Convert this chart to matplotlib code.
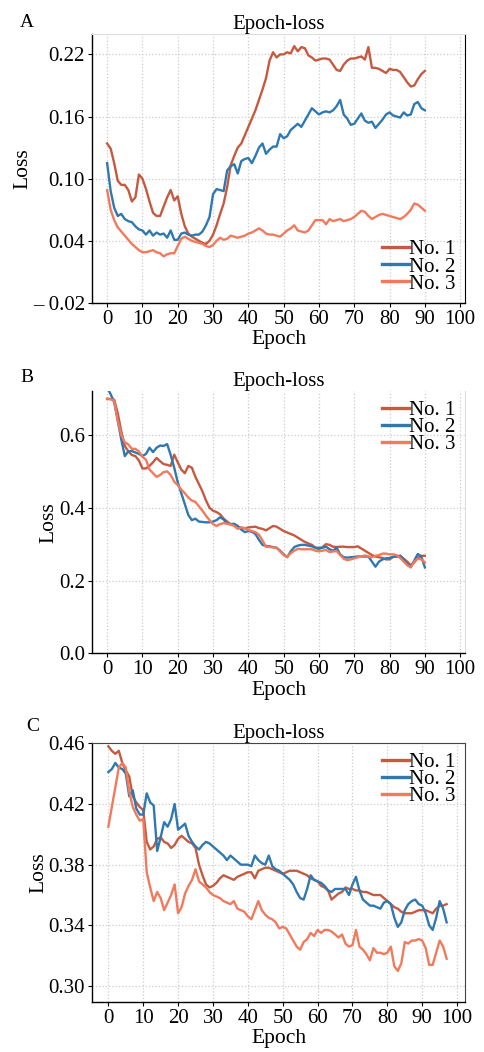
import numpy as np
import matplotlib
matplotlib.use("Agg")
import matplotlib.pyplot as plt

plt.rcParams['font.family'] = ['Liberation Serif', 'DejaVu Serif']
plt.rcParams['font.size'] = 14

labels = ["No. 1", "No. 2", "No. 3"]
colors = ["#c55a40", "#2f78b0", "#f27a5c"]

# panel A
a_no1 = [0.134, 0.129, 0.115, 0.098, 0.094, 0.094, 0.089, 0.078, 0.082, 0.104,
         0.100, 0.090, 0.078, 0.067, 0.064, 0.064, 0.073, 0.082, 0.089, 0.079,
         0.083, 0.066, 0.054, 0.047, 0.044, 0.042, 0.040, 0.038, 0.037, 0.040,
         0.046, 0.055, 0.066, 0.076, 0.092, 0.113, 0.122, 0.130, 0.134, 0.142,
         0.150, 0.158, 0.166, 0.176, 0.186, 0.197, 0.214, 0.222, 0.217, 0.220,
         0.220, 0.222, 0.221, 0.228, 0.223, 0.227, 0.226, 0.219, 0.217, 0.214,
         0.215, 0.216, 0.216, 0.215, 0.210, 0.205, 0.204, 0.210, 0.214, 0.216,
         0.216, 0.217, 0.218, 0.215, 0.227, 0.207, 0.207, 0.206, 0.204, 0.202,
         0.206, 0.205, 0.205, 0.203, 0.198, 0.193, 0.189, 0.190, 0.196, 0.201,
         0.204]
a_no2 = [0.115, 0.088, 0.072, 0.064, 0.066, 0.061, 0.059, 0.058, 0.054, 0.051,
         0.050, 0.046, 0.050, 0.045, 0.048, 0.046, 0.047, 0.043, 0.050, 0.041,
         0.041, 0.047, 0.048, 0.046, 0.045, 0.046, 0.046, 0.049, 0.055, 0.063,
         0.085, 0.090, 0.089, 0.088, 0.108, 0.112, 0.114, 0.105, 0.117, 0.119,
         0.120, 0.115, 0.122, 0.130, 0.134, 0.124, 0.128, 0.131, 0.131, 0.143,
         0.139, 0.141, 0.147, 0.150, 0.153, 0.150, 0.156, 0.162, 0.168, 0.165,
         0.162, 0.164, 0.165, 0.164, 0.166, 0.170, 0.176, 0.162, 0.158, 0.152,
         0.153, 0.158, 0.163, 0.156, 0.154, 0.155, 0.149, 0.153, 0.157, 0.162,
         0.164, 0.161, 0.160, 0.159, 0.164, 0.161, 0.162, 0.172, 0.174, 0.168,
         0.166]
a_no3 = [0.089, 0.070, 0.060, 0.053, 0.049, 0.045, 0.041, 0.037, 0.034, 0.031,
         0.029, 0.029, 0.030, 0.031, 0.029, 0.028, 0.025, 0.027, 0.028, 0.028,
         0.035, 0.042, 0.044, 0.042, 0.040, 0.039, 0.038, 0.037, 0.035, 0.034,
         0.036, 0.040, 0.043, 0.041, 0.042, 0.045, 0.044, 0.043, 0.044, 0.045,
         0.047, 0.048, 0.050, 0.052, 0.050, 0.047, 0.046, 0.046, 0.045, 0.044,
         0.047, 0.050, 0.052, 0.055, 0.050, 0.049, 0.048, 0.050, 0.055, 0.060,
         0.060, 0.060, 0.056, 0.061, 0.059, 0.060, 0.061, 0.059, 0.060, 0.061,
         0.063, 0.066, 0.069, 0.068, 0.064, 0.061, 0.063, 0.065, 0.066, 0.065,
         0.064, 0.063, 0.062, 0.061, 0.063, 0.066, 0.070, 0.076, 0.075, 0.072,
         0.069]

# panel B
b_no1 = [0.699, 0.699, 0.697, 0.660, 0.610, 0.570, 0.555, 0.545, 0.542, 0.530,
         0.508, 0.508, 0.515, 0.525, 0.537, 0.528, 0.520, 0.518, 0.515, 0.546,
         0.525, 0.505, 0.495, 0.515, 0.510, 0.485, 0.465, 0.445, 0.420, 0.400,
         0.392, 0.388, 0.382, 0.370, 0.362, 0.355, 0.352, 0.348, 0.345, 0.343,
         0.346, 0.347, 0.348, 0.344, 0.342, 0.338, 0.344, 0.350, 0.348, 0.342,
         0.336, 0.332, 0.328, 0.324, 0.318, 0.312, 0.306, 0.302, 0.298, 0.290,
         0.286, 0.292, 0.300, 0.298, 0.293, 0.292, 0.293, 0.293, 0.292, 0.292,
         0.292, 0.294, 0.288, 0.282, 0.276, 0.270, 0.266, 0.264, 0.262, 0.258,
         0.258, 0.265, 0.266, 0.268, 0.260, 0.252, 0.242, 0.250, 0.262, 0.268,
         0.268]
b_no2 = [0.730, 0.712, 0.690, 0.640, 0.588, 0.542, 0.555, 0.556, 0.552, 0.548,
         0.542, 0.548, 0.565, 0.553, 0.565, 0.571, 0.570, 0.575, 0.545, 0.510,
         0.470, 0.440, 0.410, 0.380, 0.366, 0.370, 0.362, 0.361, 0.360, 0.360,
         0.362, 0.366, 0.374, 0.368, 0.356, 0.355, 0.356, 0.350, 0.340, 0.333,
         0.336, 0.334, 0.328, 0.312, 0.298, 0.295, 0.294, 0.292, 0.290, 0.282,
         0.272, 0.264, 0.280, 0.292, 0.296, 0.298, 0.298, 0.296, 0.294, 0.290,
         0.290, 0.290, 0.293, 0.286, 0.282, 0.290, 0.272, 0.264, 0.263, 0.264,
         0.265, 0.266, 0.266, 0.266, 0.266, 0.252, 0.238, 0.252, 0.258, 0.261,
         0.262, 0.265, 0.266, 0.268, 0.258, 0.245, 0.237, 0.255, 0.273, 0.266,
         0.236]
b_no3 = [0.700, 0.698, 0.695, 0.640, 0.600, 0.580, 0.574, 0.562, 0.562, 0.555,
         0.540, 0.532, 0.505, 0.495, 0.485, 0.490, 0.498, 0.500, 0.490, 0.472,
         0.462, 0.450, 0.440, 0.428, 0.420, 0.416, 0.404, 0.392, 0.378, 0.366,
         0.355, 0.350, 0.355, 0.358, 0.356, 0.354, 0.350, 0.342, 0.346, 0.344,
         0.339, 0.336, 0.333, 0.326, 0.310, 0.293, 0.292, 0.291, 0.290, 0.280,
         0.270, 0.265, 0.275, 0.282, 0.287, 0.286, 0.286, 0.286, 0.286, 0.282,
         0.280, 0.282, 0.284, 0.278, 0.280, 0.281, 0.270, 0.260, 0.256, 0.258,
         0.261, 0.264, 0.266, 0.269, 0.266, 0.264, 0.268, 0.270, 0.274, 0.274,
         0.272, 0.272, 0.270, 0.262, 0.252, 0.242, 0.236, 0.252, 0.260, 0.258,
         0.250]

# panel C
c_no1 = [0.458, 0.455, 0.453, 0.455, 0.447, 0.442, 0.438, 0.425, 0.421, 0.418,
         0.416, 0.395, 0.390, 0.392, 0.397, 0.398, 0.395, 0.394, 0.391, 0.393,
         0.397, 0.399, 0.397, 0.395, 0.394, 0.391, 0.380, 0.373, 0.367, 0.365,
         0.366, 0.368, 0.371, 0.373, 0.372, 0.371, 0.370, 0.372, 0.373, 0.374,
         0.375, 0.375, 0.371, 0.376, 0.377, 0.378, 0.378, 0.377, 0.376, 0.375,
         0.374, 0.375, 0.376, 0.376, 0.376, 0.375, 0.374, 0.373, 0.371, 0.370,
         0.369, 0.366, 0.365, 0.363, 0.357, 0.359, 0.361, 0.362, 0.365, 0.364,
         0.364, 0.363, 0.363, 0.362, 0.362, 0.361, 0.360, 0.360, 0.360, 0.358,
         0.356, 0.354, 0.352, 0.351, 0.349, 0.348, 0.348, 0.348, 0.349, 0.350,
         0.350, 0.350, 0.349, 0.348, 0.351, 0.353, 0.353, 0.354]
c_no2 = [0.441, 0.443, 0.447, 0.444, 0.443, 0.440, 0.425, 0.429, 0.417, 0.413,
         0.413, 0.427, 0.421, 0.419, 0.389, 0.398, 0.408, 0.405, 0.410, 0.420,
         0.403, 0.405, 0.407, 0.399, 0.395, 0.392, 0.390, 0.393, 0.395, 0.394,
         0.392, 0.390, 0.388, 0.386, 0.383, 0.386, 0.384, 0.382, 0.380, 0.380,
         0.380, 0.379, 0.386, 0.383, 0.381, 0.380, 0.386, 0.379, 0.377, 0.376,
         0.374, 0.372, 0.370, 0.367, 0.362, 0.358, 0.357, 0.364, 0.373, 0.370,
         0.369, 0.368, 0.366, 0.363, 0.362, 0.364, 0.364, 0.364, 0.364, 0.360,
         0.367, 0.372, 0.363, 0.357, 0.355, 0.353, 0.353, 0.352, 0.351, 0.355,
         0.356, 0.354, 0.345, 0.339, 0.342, 0.350, 0.354, 0.356, 0.357, 0.354,
         0.353, 0.348, 0.340, 0.337, 0.345, 0.356, 0.351, 0.342]
c_no3 = [0.405, 0.418, 0.431, 0.444, 0.447, 0.444, 0.428, 0.418, 0.413, 0.409,
         0.410, 0.375, 0.365, 0.356, 0.362, 0.358, 0.350, 0.355, 0.360, 0.367,
         0.348, 0.352, 0.361, 0.366, 0.370, 0.377, 0.369, 0.367, 0.365, 0.362,
         0.360, 0.359, 0.358, 0.356, 0.355, 0.354, 0.356, 0.351, 0.350, 0.349,
         0.346, 0.344, 0.350, 0.356, 0.350, 0.347, 0.345, 0.344, 0.342, 0.338,
         0.339, 0.338, 0.334, 0.330, 0.326, 0.324, 0.329, 0.331, 0.335, 0.333,
         0.337, 0.335, 0.337, 0.337, 0.336, 0.334, 0.332, 0.334, 0.328, 0.326,
         0.327, 0.337, 0.326, 0.324, 0.321, 0.317, 0.325, 0.322, 0.322, 0.321,
         0.322, 0.326, 0.313, 0.310, 0.315, 0.329, 0.328, 0.330, 0.330, 0.331,
         0.330, 0.325, 0.314, 0.314, 0.322, 0.330, 0.326, 0.318]

xticks = [0, 10, 20, 30, 40, 50, 60, 70, 80, 90, 100]
a_yticks = [-0.02, 0.04, 0.10, 0.16, 0.22]
a_ylabels = ["\u2013 0.02", "0.04", "0.10", "0.16", "0.22"]
b_yticks = [0.0, 0.2, 0.4, 0.6]
c_yticks = [0.30, 0.34, 0.38, 0.42, 0.46]

fig = plt.figure(figsize=(4.84, 10.52), dpi=100)
ax_a = fig.add_axes([0.190, 0.712, 0.771, 0.256])
ax_b = fig.add_axes([0.190, 0.379, 0.771, 0.249])
ax_c = fig.add_axes([0.190, 0.0475, 0.771, 0.246])


def draw(ax, series, xlim, ylim, legend_loc):
    for s, lab, col in zip(series, labels, colors):
        ax.plot(np.arange(len(s)), s, color=col, lw=1.7, label=lab)
    ax.set_xlim(*xlim)
    ax.set_ylim(*ylim)
    ax.set_xticks(xticks)
    ax.grid(True, color="#cccccc", ls=":", lw=0.9)
    ax.set_axisbelow(True)
    ax.set_title("Epoch-loss", fontsize=15, pad=3)
    ax.set_xlabel("Epoch", fontsize=15.5, labelpad=1)
    ax.set_ylabel("Loss", fontsize=15.5, labelpad=0)
    ax.tick_params(direction="out", length=3, width=0.8, labelsize=15, pad=2)
    for sp in ["left", "bottom"]:
        ax.spines[sp].set_color("black")
        ax.spines[sp].set_linewidth(1.0)
    leg = ax.legend(loc=legend_loc, frameon=False, fontsize=15, handlelength=1.3,
                    handletextpad=0.0, labelspacing=-0.12, borderaxespad=0.05)
    for h in leg.get_lines():
        h.set_linewidth(2.4)
    return ax


draw(ax_a, [a_no1, a_no2, a_no3], (-4.3, 101.4), (-0.02, 0.24), "lower right")
ax_a.set_yticks(a_yticks, a_ylabels)
ax_a.spines["top"].set_color("#dddddd")
ax_a.spines["right"].set_color("black")

draw(ax_b, [b_no1, b_no2, b_no3], (-4.3, 101.4), (0.0, 0.72), "upper right")
ax_b.set_yticks(b_yticks)
ax_b.set_yticklabels(["0.0", "0.2", "0.4", "0.6"])
ax_b.spines["top"].set_visible(False)
ax_b.spines["right"].set_color("#dddddd")

draw(ax_c, [c_no1, c_no2, c_no3], (-4.7, 102.3), (0.2895, 0.46), "upper right")
ax_c.set_yticks(c_yticks)
ax_c.set_yticklabels(["0.30", "0.34", "0.38", "0.42", "0.46"])
ax_c.spines["top"].set_color("#444444")
ax_c.spines["right"].set_color("#444444")

fig.text(0.055, 0.979, "A", fontsize=14, ha="center", va="center")
fig.text(0.055, 0.641, "B", fontsize=14, ha="center", va="center")
fig.text(0.068, 0.309, "C", fontsize=14, ha="center", va="center")

fig.savefig("out.png", dpi=100)
